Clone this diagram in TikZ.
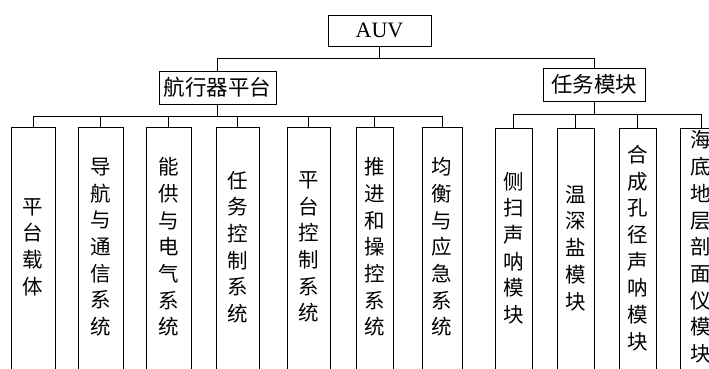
\documentclass[tikz,border=0pt]{standalone}
\usepackage{fontspec}
\setmainfont{Liberation Serif}
\newfontfamily\cjk{Noto Sans CJK SC}
\begin{document}
\begin{tikzpicture}[x=1pt,y=-1pt,
  every node/.style={inner sep=0pt, outer sep=0pt},
  line/.style={draw=black, line width=0.9pt},
  topbox/.style={line, fill=white, minimum height=31pt, font=\fontsize{22}{22}\selectfont},
  midbox/.style={line, fill=white, minimum height=33pt, font=\cjk\fontsize{21.5}{22}\selectfont},
  leafbox/.style={line, anchor=north, minimum height=300pt},
  vtext/.style={font=\cjk\fontsize{20.5}{26.7}\selectfont, align=center},
  conn/.style={line}]
\useasboundingbox (0,0) rectangle (709,369);
\clip (0,0) rectangle (709,369);

% top
\node[topbox, minimum width=103pt] (auv) at (379.5,30.5) {AUV};
\node[midbox, minimum width=117pt] (plat) at (217.5,87.5) {航行器平台};
\node[midbox, minimum width=102pt] (task) at (594,84.5) {任务模块};

\coordinate (bus0) at (0,58);
\coordinate (bus1) at (0,116);
\coordinate (bus2) at (0,114);

% leaf boxes (platform)
\node[leafbox, minimum width=44pt] (c1) at (33,127) {};
\node[leafbox, minimum width=45pt] (c2) at (100.5,127) {};
\node[leafbox, minimum width=45pt] (c3) at (168.5,127) {};
\node[leafbox, minimum width=43pt] (c4) at (237.5,127) {};
\node[leafbox, minimum width=43pt] (c5) at (308.5,127) {};
\node[leafbox, minimum width=37pt] (c6) at (374.5,127) {};
\node[leafbox, minimum width=40pt] (c7) at (442,127) {};
% leaf boxes (task)
\node[leafbox, minimum width=37pt] (d1) at (513.5,128) {};
\node[leafbox, minimum width=37pt] (d2) at (575.5,128) {};
\node[leafbox, minimum width=37pt] (d3) at (637.5,128) {};
\node[leafbox, minimum width=42pt] (d4) at (701,128) {};

% texts
\node[vtext] (t1) at (33,247) {平\\台\\载\\体};
\node[vtext] (t2) at (100.5,247) {导\\航\\与\\通\\信\\系\\统};
\node[vtext] (t3) at (168.5,247) {能\\供\\与\\电\\气\\系\\统};
\node[vtext] (t4) at (237.5,247) {任\\务\\控\\制\\系\\统};
\node[vtext] (t5) at (308.5,247) {平\\台\\控\\制\\系\\统};
\node[vtext] (t6) at (374.5,247) {推\\进\\和\\操\\控\\系\\统};
\node[vtext] (t7) at (442,247) {均\\衡\\与\\应\\急\\系\\统};
\node[vtext] (u1) at (513.5,248) {侧\\扫\\声\\呐\\模\\块};
\node[vtext] (u2) at (575.5,248) {温\\深\\盐\\模\\块};
\node[vtext] (u3) at (637.5,248) {合\\成\\孔\\径\\声\\呐\\模\\块};
\node[vtext] (u4) at (701,247) {海\\底\\地\\层\\剖\\面\\仪\\模\\块};

% connectors
\draw[conn] (auv.south) -- (auv.south |- bus0) -| (plat.north);
\draw[conn] (auv.south |- bus0) -| (task.north);
\foreach \c in {c1,c2,c3,c4,c5,c6,c7}
  \draw[conn] (plat.south) -- (plat.south |- bus1) -| (\c.north);
\foreach \c in {d1,d2,d3,d4}
  \draw[conn] (task.south) -- (task.south |- bus2) -| (\c.north);
\end{tikzpicture}
\end{document}
